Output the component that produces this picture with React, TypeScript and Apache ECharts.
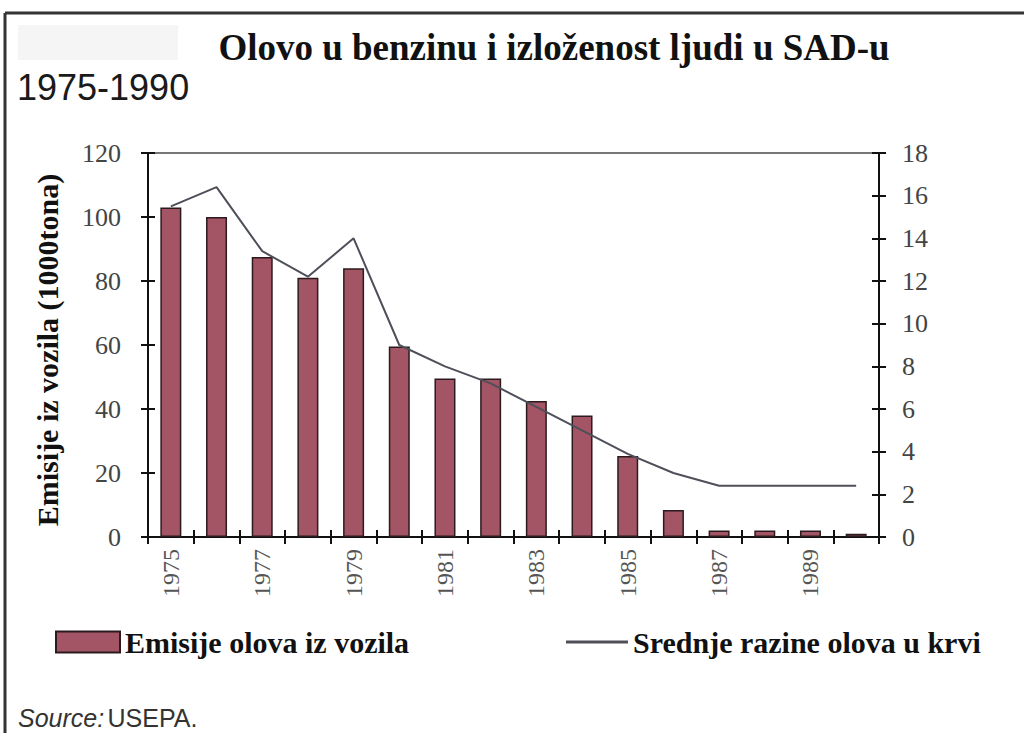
import React, { useEffect, useRef } from "react";
import * as echarts from "echarts";

const years = ["1975","1976","1977","1978","1979","1980","1981","1982","1983","1984","1985","1986","1987","1988","1989","1990"];
const emissions = [103, 100, 87.5, 81, 84, 59.5, 49.5, 49.5, 42.5, 38, 25.3, 8.4, 2, 2, 2, 1];
const bloodLead = [15.5, 16.4, 13.4, 12.2, 14.0, 9.0, 8.0, 7.2, 6.1, 5.0, 3.9, 3.0, 2.4, 2.4, 2.4, 2.4];
const leftTicks = { min: 0, max: 120, interval: 20 };
const rightTicks = { min: 0, max: 18, interval: 2 };

const titleText = "Olovo u benzinu i izloženost ljudi u SAD-u";
const subtitleText = "1975-1990";
const axisNameText = "Emisije iz vozila (1000tona)";
const barName = "Emisije olova iz vozila";
const lineName = "Srednje razine olova u krvi";

const SERIF = '"Liberation Serif", "Times New Roman", serif';
const SANS = '"Liberation Sans", Arial, sans-serif';

export default function App() {
  const ref = useRef<HTMLDivElement>(null);
  useEffect(() => {
    if (!ref.current) return;
    const chart = echarts.init(ref.current, null, { renderer: "svg" });
    const tickLabel = { fontFamily: SERIF, fontSize: 26, color: "#444" };
    const axisLine = { show: true, lineStyle: { color: "#111", width: 2 } };
    const hiddenLine = { show: true, onZero: false, lineStyle: { color: "rgba(0,0,0,0)", width: 0 } };
    const tickStyle = { color: "#111", width: 2 };
    chart.setOption({
      animation: false,
      backgroundColor: "#fff",
      grid: { left: 148, right: 145, top: 153, bottom: 196, show: true, borderColor: "#777", borderWidth: 2, backgroundColor: "transparent" },
      legend: [
        {
          data: [barName], left: 50, top: 622, icon: "rect", itemWidth: 64, itemHeight: 21,
          itemStyle: { borderColor: "#2b1b1e", borderWidth: 2 },
          textStyle: { fontFamily: SERIF, fontWeight: "bold", fontSize: 30, color: "#111" },
        },
        {
          data: [lineName], left: 561, top: 622, icon: "rect", itemWidth: 62, itemHeight: 3,
          textStyle: { fontFamily: SERIF, fontWeight: "bold", fontSize: 30, color: "#111" },
        },
      ],
      xAxis: [
        {
          type: "category", data: years, position: "bottom", boundaryGap: true,
          axisLine: { ...axisLine, onZero: false }, axisTick: { show: true, interval: 0, length: 7, lineStyle: tickStyle },
          axisLabel: { interval: 1, rotate: 90, margin: 12, fontFamily: SERIF, fontSize: 24, color: "#555" },
          splitLine: { show: false },
        },
        {
          type: "category", data: years, position: "bottom", boundaryGap: true,
          axisLine: hiddenLine, axisTick: { show: true, inside: true, interval: 0, length: 7, lineStyle: tickStyle },
          axisLabel: { show: false }, splitLine: { show: false },
        },
      ],
      yAxis: [
        {
          type: "value", position: "left", ...leftTicks,
          axisLine, axisTick: { show: true, length: 7, lineStyle: tickStyle },
          axisLabel: { margin: 27, ...tickLabel }, splitLine: { show: false },
        },
        {
          type: "value", position: "right", ...rightTicks,
          axisLine, axisTick: { show: true, length: 7, lineStyle: tickStyle },
          axisLabel: { margin: 23, ...tickLabel }, splitLine: { show: false },
        },
        {
          type: "value", position: "left", ...leftTicks,
          axisLine: hiddenLine, axisTick: { show: true, inside: true, length: 7, lineStyle: tickStyle },
          axisLabel: { show: false }, splitLine: { show: false },
        },
        {
          type: "value", position: "right", ...rightTicks,
          axisLine: hiddenLine, axisTick: { show: true, inside: true, length: 7, lineStyle: tickStyle },
          axisLabel: { show: false }, splitLine: { show: false },
        },
      ],
      series: [
        {
          name: barName, type: "bar", xAxisIndex: 0, yAxisIndex: 0, data: emissions, barWidth: 21,
          itemStyle: { color: "#a35465", borderColor: "#2b1b1e", borderWidth: 1.5 },
        },
        {
          name: lineName, type: "line", xAxisIndex: 0, yAxisIndex: 1, data: bloodLead,
          symbol: "none", itemStyle: { color: "#4f4f5a" }, lineStyle: { color: "#4f4f5a", width: 2 },
        },
      ],
      graphic: [
        { type: "line", shape: { x1: 5, y1: 13, x2: 1024, y2: 13 }, style: { stroke: "#333", lineWidth: 3 } },
        { type: "line", shape: { x1: 5, y1: 13, x2: 5, y2: 733 }, style: { stroke: "#333", lineWidth: 3 } },
        { type: "rect", shape: { x: 18, y: 25, width: 160, height: 35 }, style: { fill: "#f5f5f5" } },
        {
          type: "text", x: 554, y: 47,
          style: { text: titleText, font: `bold 37px ${SERIF}`, fill: "#111", align: "center", verticalAlign: "middle" },
        },
        {
          type: "text", x: 17, y: 87,
          style: { text: subtitleText, font: `normal 36px ${SANS}`, fill: "#1a1a1a", align: "left", verticalAlign: "middle" },
        },
        {
          type: "text", x: 47, y: 350, rotation: Math.PI / 2,
          style: { text: axisNameText, font: `bold 30px ${SERIF}`, fill: "#111", align: "center", verticalAlign: "middle" },
        },
        {
          type: "text", x: 18, y: 718,
          style: {
            text: "{i|Source:} {n|USEPA.}", align: "left", verticalAlign: "middle",
            rich: {
              i: { fontFamily: SANS, fontStyle: "italic", fontSize: 25, fill: "#333" },
              n: { fontFamily: SANS, fontSize: 25, fill: "#333" },
            },
          },
        },
      ],
    });
    return () => chart.dispose();
  }, []);
  return <div ref={ref} style={{ position: "absolute", left: 0, top: 0, width: 1024, height: 733 }} />;
}
